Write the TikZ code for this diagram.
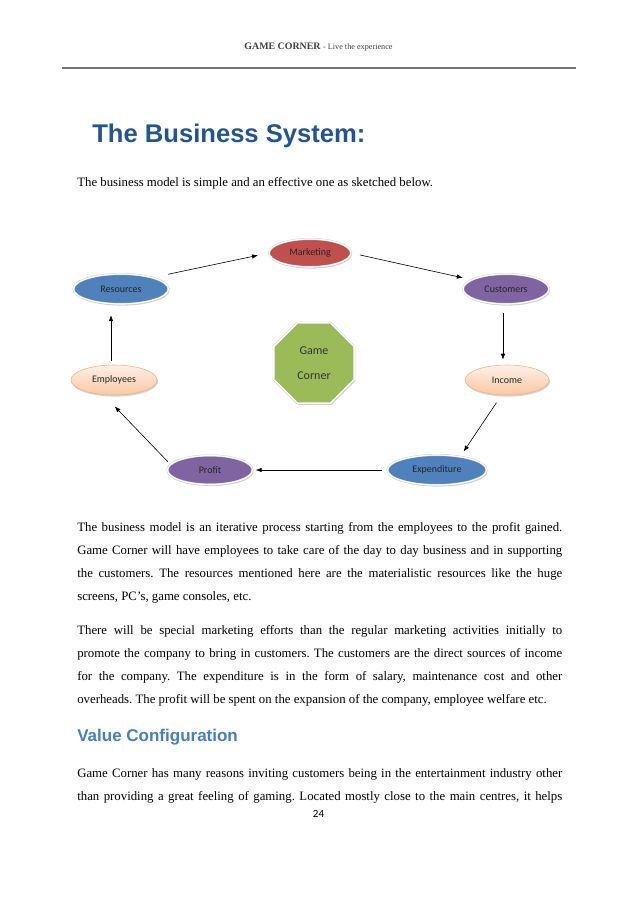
\documentclass[tikz,border=0pt]{standalone}
\usepackage{fontspec}
\setmainfont{Liberation Serif}
\newfontfamily\hdsans{Liberation Sans}
\newfontfamily\calib{Carlito}
\usepackage{tikz}
\usetikzlibrary{arrows.meta}
\usetikzlibrary{shapes.geometric}
\usetikzlibrary{shadows}
\definecolor{mred}{HTML}{C0504D}
\definecolor{mblue}{HTML}{4F81BD}
\definecolor{mpurp}{HTML}{8064A2}
\definecolor{mgreen}{HTML}{9BBB59}
\definecolor{peachtop}{HTML}{FDF0E6}
\definecolor{peachbot}{HTML}{FAC8A2}
\definecolor{peachline}{HTML}{F0B48A}
\definecolor{titleblue}{HTML}{25558E}
\definecolor{headblue}{HTML}{4A7EBB}
\tikzstyle{oval}=[ellipse,inner sep=0pt,minimum height=30pt,text=black!85,font=\calib\fontsize{10}{12}\selectfont,drop shadow={shadow xshift=1pt,shadow yshift=-1.6pt,opacity=.35}]
\tikzstyle{stage}=[oval,draw=black!20,double=white,double distance=1.2pt,line width=.4pt]
\tikzstyle{peach}=[oval,draw=peachline,line width=.6pt,top color=peachtop,bottom color=peachbot]
\tikzstyle{para}=[anchor=base west,inner sep=0pt,text width=485pt,align=justify,font=\fontsize{12.8}{23.3}\selectfont\frenchspacing]

\begin{document}
\begin{tikzpicture}[x=1pt,y=-1pt,semithick,>={Latex[length=6pt,width=4.5pt]}]
\tikzstyle{hub}=[regular polygon,regular polygon sides=8,minimum size=87pt,inner sep=0pt,fill=mgreen,draw=black!20,double=white,double distance=1.2pt,line width=.4pt,align=center,text=black!80,font=\calib\fontsize{12}{25}\selectfont,drop shadow={shadow xshift=1pt,shadow yshift=-1.6pt,opacity=.35}]
\fill[white] (0,0) rectangle (638,903);
\useasboundingbox (0,0) rectangle (638,903);

% page head
\node[anchor=base,inner sep=0pt,text=black!75] (hdr) at (318.5,49.5)
  {{\bfseries\fontsize{9.9}{12}\selectfont GAME CORNER} {\fontsize{8.2}{10}\selectfont - Live the experience}};
\draw[black!55,line width=1.8pt] (62,68) -- (576,68);

\node[anchor=base west,inner sep=0pt,text=titleblue,font=\hdsans\bfseries\fontsize{25.6}{30}\selectfont] (title) at (92,142) {The Business System:};
\node[anchor=base west,inner sep=0pt,font=\fontsize{12.8}{15}\selectfont] (intro) at (77,186) {The business model is simple and an effective one as sketched below.};

% the cycle
\node[stage,fill=mred,minimum width=82pt,minimum height=28pt] (m) at (310,253) {Marketing};
\node[stage,fill=mblue,minimum width=95pt] (r) at (121,289) {Resources};
\node[stage,fill=mpurp,minimum width=86pt] (c) at (506,289) {Customers};
\node[peach,minimum width=84pt] (i) at (507,380) {Income};
\node[peach,minimum width=86pt] (e) at (114,380) {Employees};
\node[stage,fill=mpurp,minimum width=85pt,minimum height=29pt] (p) at (210,470) {Profit};
\node[stage,fill=mblue,minimum width=99pt] (x) at (437,470) {Expenditure};
\node[hub] (g) at (314,363) {Game\\Corner};

\draw[->,shorten <=16pt,shorten >=11pt] (r.20) -- (m.west);
\draw[->,shorten <=9pt,shorten >=9pt] (m.east) -- (c.165);
\draw[->,shorten <=9pt,shorten >=5pt] ([xshift=-3pt]c.south) -- ([xshift=-3pt]c.south |- i.north);
\draw[->,shorten <=9pt,shorten >=6pt] (i.250) -- (x.30);
\draw[->,shorten <=5pt,shorten >=3pt] (x.west) -- (p.east);
\draw[->,shorten <=4pt,shorten >=16pt] (p.172) -- (e.235);
\draw[->,shorten <=4pt,shorten >=11pt] ([xshift=-3pt]e.north) -- ([xshift=-3pt]e.north |- r.south);

% text below
\node[para] (p1) at (77,531) {The business model is an iterative process starting from the employees to the profit gained.\linebreak
Game Corner will have employees to take care of the day to day business and in supporting\linebreak
the customers. The resources mentioned here are the materialistic resources like the huge\linebreak
screens, PC’s, game consoles, etc.};
\node[para] (p2) at (77,634) {There will be special marketing efforts than the regular marketing activities initially to\linebreak
promote the company to bring in customers. The customers are the direct sources of income\linebreak
for the company. The expenditure is in the form of salary, maintenance cost and other\linebreak
overheads. The profit will be spent on the expansion of the company, employee welfare etc.};
\node[anchor=base west,inner sep=0pt,text=headblue,font=\hdsans\bfseries\fontsize{17}{20}\selectfont] (vc) at (77,741) {Value Configuration};
\node[para] (p3) at (77,777) {Game Corner has many reasons inviting customers being in the entertainment industry other\linebreak
than providing a great feeling of gaming. Located mostly close to the main centres, it helps\linebreak\mbox{}};
\node[anchor=base,inner sep=0pt,font=\calib\fontsize{11}{13}\selectfont] (pg) at (318.5,817) {24};
\end{tikzpicture}
\end{document}
